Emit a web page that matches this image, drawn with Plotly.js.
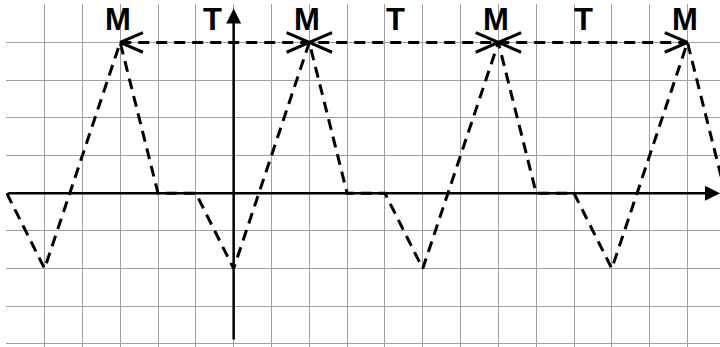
<!DOCTYPE html>
<html>
<head>
<meta charset="utf-8">
<script src="https://cdn.plot.ly/plotly-3.0.1.min.js"></script>
<style>
  html, body { margin: 0; padding: 0; background: #fff; }
  #chart { width: 720px; height: 347px; }
</style>
</head>
<body>
<div id="chart"></div>
<script>
// waveform corners (x in grid squares from the vertical axis, y in squares)
const waveX = [-6, -5, -3, -2, -1, 0, 2, 3, 4, 5, 7, 8, 9, 10, 12, 13];
const waveY = [0, -2, 4, 0, 0, -2, 4, 0, 0, -2, 4, 0, 0, -2, 4, 0];

// peaks marked M, period arrows between them
const peakX = [-3, 2, 7, 12];
const peakY = 4;
const peakLabels = ['M', 'M', 'M', 'M'];

// T labels between the peaks
const tX = [-0.55, 4.27, 9.25];
const tLabels = ['T', 'T', 'T'];

const headLen = 0.6;
const headHalf = 0.26;

// chevrons on the period line
const chevX = [];
const chevY = [];
peakX.forEach((px, i) => {
  if (i < peakX.length - 1) {
    chevX.push(px + headLen, px, px + headLen, null);
    chevY.push(peakY + headHalf, peakY, peakY - headHalf, null);
  }
  if (i > 0) {
    chevX.push(px - headLen, px, px - headLen, null);
    chevY.push(peakY + headHalf, peakY, peakY - headHalf, null);
  }
});

const traces = [
  {
    x: waveX, y: waveY, type: 'scatter', mode: 'lines',
    line: { color: '#000', width: 3, dash: '11px,7px' },
    hoverinfo: 'skip'
  },
  {
    x: [peakX[0], peakX[peakX.length - 1]], y: [peakY, peakY],
    type: 'scatter', mode: 'lines',
    line: { color: '#000', width: 3, dash: '11px,7px' },
    hoverinfo: 'skip'
  },
  {
    x: chevX, y: chevY, type: 'scatter', mode: 'lines',
    line: { color: '#000', width: 3 },
    hoverinfo: 'skip'
  }
];

const labelFont = { family: 'Liberation Sans, Arial, sans-serif', size: 31, color: '#000', weight: 'bold' };

const annotations = [];
// axes with arrow heads
annotations.push({
  x: 12.86, y: 0, ax: -6, ay: 0, xref: 'x', yref: 'y', axref: 'x', ayref: 'y',
  text: '', showarrow: true, arrowhead: 2, arrowsize: 1.2, arrowwidth: 2.5, arrowcolor: '#000'
});
annotations.push({
  x: 0, y: 4.9, ax: 0, ay: -3.92, xref: 'x', yref: 'y', axref: 'x', ayref: 'y',
  text: '', showarrow: true, arrowhead: 2, arrowsize: 1.2, arrowwidth: 2.5, arrowcolor: '#000'
});
peakX.forEach((px, i) => {
  annotations.push({
    x: px - 0.07, y: 4.6, xref: 'x', yref: 'y', text: '<b>' + peakLabels[i] + '</b>',
    showarrow: false, font: labelFont, xanchor: 'center', yanchor: 'middle'
  });
});
tX.forEach((tx, i) => {
  annotations.push({
    x: tx, y: 4.6, xref: 'x', yref: 'y', text: '<b>' + tLabels[i] + '</b>',
    showarrow: false, font: labelFont, xanchor: 'center', yanchor: 'middle'
  });
});

const layout = {
  width: 720,
  height: 347,
  margin: { l: 6, r: 0, t: 4, b: 0, pad: 0 },
  paper_bgcolor: '#fff',
  plot_bgcolor: '#fff',
  showlegend: false,
  xaxis: {
    range: [-6.02, 12.86], dtick: 1, tick0: 0,
    showgrid: true, gridcolor: '#a0a0a0', gridwidth: 1,
    zeroline: false, showticklabels: false, ticks: '', showline: false, fixedrange: true
  },
  yaxis: {
    range: [-4.08, 5.02], dtick: 1, tick0: 0,
    showgrid: true, gridcolor: '#a0a0a0', gridwidth: 1,
    zeroline: false, showticklabels: false, ticks: '', showline: false, fixedrange: true
  },
  annotations: annotations
};

Plotly.newPlot('chart', traces, layout, { displayModeBar: false, staticPlot: true });
</script>
</body>
</html>
